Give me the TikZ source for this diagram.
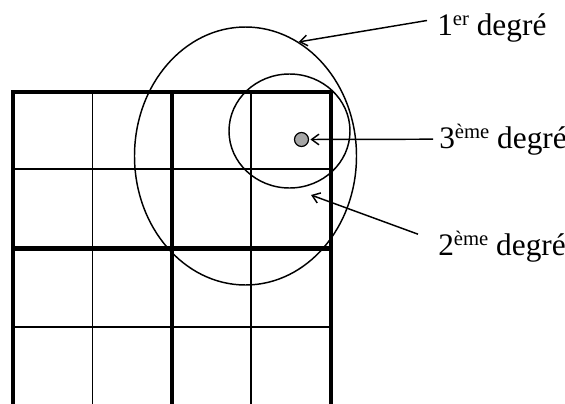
\documentclass[tikz,border=0pt]{standalone}
\usepackage{fontspec}
\setmainfont{Liberation Serif}
\usepackage{tikz}
\usetikzlibrary{arrows.meta,shapes.geometric}
\newcommand{\expo}[1]{\raisebox{7.5pt}{\fontsize{15.5}{16}\selectfont #1}}

\begin{document}
\begin{tikzpicture}[
    x=0.75pt, y=-0.75pt,
    thinline/.style={line width=1.2pt},
    thickline/.style={line width=3.4pt, line join=miter},
    ring/.style={draw, ellipse, line width=1.1pt, inner sep=0pt},
    dotnode/.style={draw, circle, fill=gray!70, line width=0.9pt, minimum size=10.5pt, inner sep=0pt},
    lab/.style={anchor=base west, inner sep=0pt, inner xsep=4.5pt, font=\fontsize{23.5}{28}\selectfont},
    arr/.style={-{Straight Barb[length=5.5pt,width=8pt]}, line width=1.1pt}
  ]
    \useasboundingbox (0,0) rectangle (565,404);
    \clip (0,0) rectangle (565,404);

    % grid
    \draw[thinline] (92.5,92) -- (92.5,410);
    \draw[thinline] (251,92) -- (251,410);
    \draw[thinline] (13,169) -- (331,169);
    \draw[thinline] (13,327) -- (331,327);
    \draw[thickline] (172,92) -- (172,410);
    \draw[thickline] (13,248.5) -- (331,248.5);
    \draw[thickline] (13,410) -- (13,92) -- (331,92) -- (331,410);

    % zones
    \node[ring, minimum width=166.5pt, minimum height=193.5pt] (ring1) at (245.5,156) {};
    \node[ring, minimum width=90.75pt, minimum height=85.5pt] (ring2) at (289.5,131) {};
    \node[dotnode] (pt) at (301.5,139.5) {};
    \coordinate (t2) at (311,195);

    % labels
    \node[lab] (deg1) at (431,35) {1\expo{er} degré};
    \node[lab] (deg3) at (433,148) {3\expo{ème} degré};
    \node[lab] (deg2) at (432,255) {2\expo{ème} degré};

    \draw[arr] ([shift={(-4,-7)}]deg1.west) -- (ring1.65);
    \draw[arr, shorten >=1pt] (deg3.west) -- (pt.east);
    \draw[arr] ([shift={(-14,-12)}]deg2.west) -- (t2);
  \end{tikzpicture}
\end{document}
